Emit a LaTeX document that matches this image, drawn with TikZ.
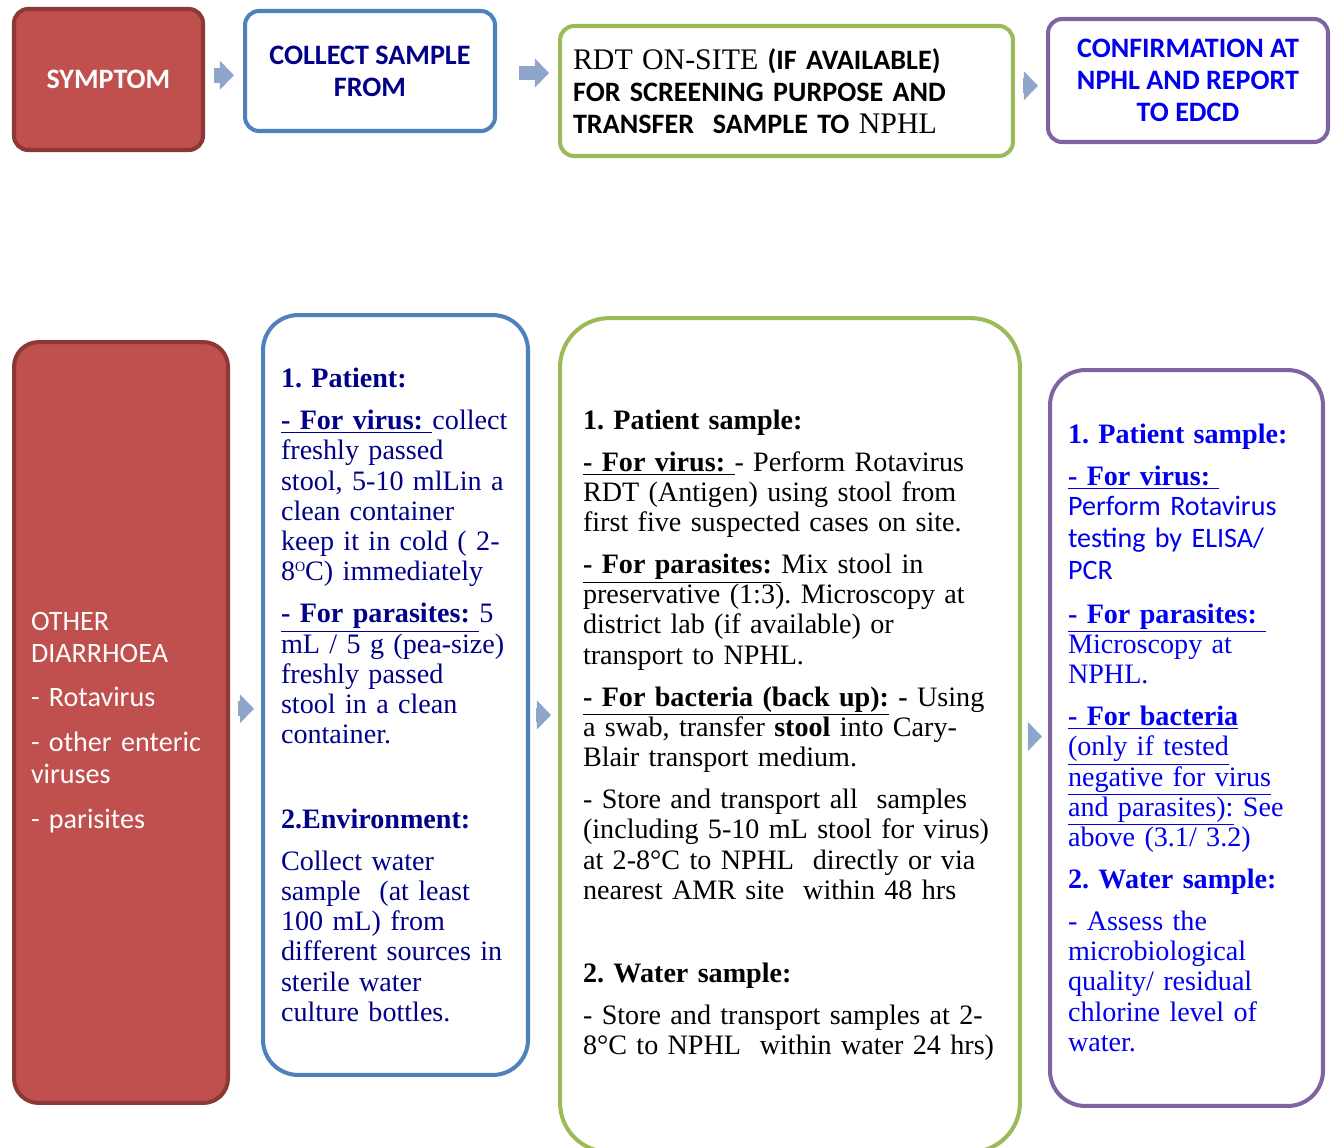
\documentclass[tikz,border=0pt]{standalone}
\usepackage{fontspec}
\setmainfont{Liberation Serif}
\setsansfont{Carlito}
\usepackage{tikz}
\usetikzlibrary{arrows.meta,calc,positioning}
\definecolor{symred}{HTML}{C0504D}
\definecolor{symredline}{HTML}{8C3836}
\definecolor{colblue}{HTML}{4F81BD}
\definecolor{rdtgreen}{HTML}{9BBB59}
\definecolor{confpurple}{HTML}{8064A2}
\definecolor{navytext}{HTML}{000088}
\definecolor{bluetext}{HTML}{0000EE}
\definecolor{arrowfill}{HTML}{8EA5CC}
\newcommand{\txtsize}{\fontsize{16}{17.2}\selectfont}
\newcommand{\capsize}{\fontsize{16}{18.1}\selectfont}
\newcommand{\ulhead}[1]{\underline{\textbf{#1}\ }}
\frenchspacing

\begin{document}
\begin{tikzpicture}
[x=0.02cm,y=-0.02cm,>={Triangle[length=8pt,width=16pt]},
 box/.style={line width=2.3pt,inner ysep=0pt},
 redbox/.style={box,draw=symredline,fill=symred,text=white,font=\sffamily\capsize},
 bluebox/.style={box,draw=colblue,fill=white,text=navytext},
 greenbox/.style={box,draw=rdtgreen,fill=white,text=black},
 purplebox/.style={box,draw=confpurple,fill=white,text=bluetext},
 flowarr/.style={->,line width=8.5pt,draw=arrowfill}]
\useasboundingbox (0,0) rectangle (1334,1147);

% top row
\node[redbox,rounded corners=8pt,minimum width=3.78cm,minimum height=2.82cm] (sym) at (108.5,79.5) {\textbf{SYMPTOM}};
\node[bluebox,rounded corners=8pt,minimum width=5cm,minimum height=2.4cm,align=center,font=\sffamily\capsize] (col) at (370,71) {\textbf{COLLECT SAMPLE}\\\textbf{FROM}};
\node[greenbox,rounded corners=8pt,minimum width=9.06cm,minimum height=2.6cm,text width=8.54cm,inner xsep=0.26cm,align=left,font=\sffamily\capsize] (rdt) at (786.5,91)
  {{\rmfamily\fontsize{17}{18.1}\selectfont RDT ON-SITE} \textbf{(IF AVAILABLE)}\\
   \textbf{FOR SCREENING PURPOSE AND}\\
   \textbf{TRANSFER\ \ SAMPLE TO} {\rmfamily\fontsize{17}{18.1}\selectfont NPHL}};
\node[purplebox,rounded corners=8pt,minimum width=5.6cm,minimum height=2.46cm,align=center,font=\sffamily\capsize] (conf) at (1188,80.5) {\textbf{CONFIRMATION AT}\\\textbf{NPHL AND REPORT}\\\textbf{TO EDCD}};

% bottom row
\node[redbox,rounded corners=14pt,minimum width=4.28cm,minimum height=15.22cm,text width=3.6cm,inner xsep=0.34cm,align=left] (dia) at (121,722.5)
  {OTHER\\
   DIARRHOEA\\[7.4pt]
   - Rotavirus\\[7.4pt]
   - other enteric\\
   viruses\\[7.4pt]
   - parisites};
\node[bluebox,rounded corners=20pt,minimum width=5.3cm,minimum height=15.2cm,text width=4.58cm,inner xsep=0.36cm,align=left,font=\txtsize] (pat) at (395.5,695)
  {\textbf{1. Patient:}\\[6.7pt]
   \ulhead{- For virus:}collect\\
   freshly passed\\
   stool, 5-10 mlLin a\\
   clean container\\
   keep it in cold ( 2-\\
   8\raisebox{0.7ex}{\footnotesize O}C) immediately\\[6.7pt]
   \ulhead{- For parasites:}5\\
   mL / 5 g (pea-size)\\
   freshly passed\\
   stool in a clean\\
   container.\\[31pt]
   \textbf{2.Environment:}\\[6.7pt]
   Collect water\\
   sample\ \ (at least\\
   100 mL) from\\
   different sources in\\
   sterile water\\
   culture bottles.};
\node[greenbox,rounded corners=28pt,minimum width=9.2cm,minimum height=16.68cm,text width=8.28cm,inner xsep=0.46cm,align=left,font=\txtsize] (rdts) at (790,735)
  {\textbf{1. Patient sample:}\\[6.7pt]
   \ulhead{- For virus:}- Perform Rotavirus\\
   RDT (Antigen) using stool from\\
   first five suspected cases on site.\\[6.7pt]
   \ulhead{- For parasites:}Mix stool in\\
   preservative (1:3). Microscopy at\\
   district lab (if available) or\\
   transport to NPHL.\\[6.7pt]
   \underline{\textbf{- For bacteria (back up):}} \textbf{-} Using\\
   a swab, transfer \textbf{stool} into Cary-\\
   Blair transport medium.\\[6.7pt]
   - Store and transport all\ \ samples\\
   (including 5-10 mL stool for virus)\\
   at 2-8°C to NPHL\ \ directly or via\\
   nearest AMR site\ \ within 48 hrs\\[30pt]
   \textbf{2. Water sample:}\\[6.7pt]
   - Store and transport samples at 2-\\
   8°C to NPHL\ \ within water 24 hrs)};
\node[purplebox,rounded corners=20pt,minimum width=5.46cm,minimum height=14.72cm,text width=4.74cm,inner xsep=0.36cm,align=left,font=\txtsize] (nphl) at (1186.5,738)
  {\textbf{1. Patient sample:}\\[6.7pt]
   \ulhead{- For virus:}\\
   {\sffamily Perform Rotavirus}\\[1pt]
   {\sffamily testing by ELISA/}\\[1pt]
   {\sffamily PCR}\\[7.5pt]
   \ulhead{- For parasites:}\\
   Microscopy at\\
   NPHL.\\[6.7pt]
   \underline{\textbf{- For bacteria}}\\
   \underline{(only if tested}\\
   \underline{negative for virus}\\
   \underline{and parasites):} See\\
   above (3.1/ 3.2)\\[6.7pt]
   \textbf{2. Water sample:}\\[6.7pt]
   - Assess the\\
   microbiological\\
   quality/ residual\\
   chlorine level of\\
   water.};

% arrows between the steps
\coordinate (m1) at ($(sym.east)!.5!(col.west)$);
\coordinate (m3) at ($(rdt.east)!.5!(conf.west)$);
\coordinate (m4) at ($(dia.east)!.5!(pat.west)$);
\coordinate (m5) at ($(pat.east)!.5!(rdts.west)$);
\coordinate (m6) at ($(rdts.east)!.5!(nphl.west)$);
\draw[flowarr,shorten <=0.18cm,shorten >=0.18cm] (sym.east |- m1) -- (col.west |- m1);
\draw[flowarr,shorten <=0.44cm,shorten >=0.18cm] ([yshift=-0.04cm]col.east) -- ([yshift=-0.04cm]col.east -| rdt.west);
\draw[flowarr,shorten <=0.16cm,shorten >=0.16cm] (rdt.east |- m3) -- (conf.west |- m3);
\draw[flowarr,shorten <=0.16cm,shorten >=0.14cm] (dia.east |- m4) -- (pat.west |- m4);
\draw[flowarr,shorten <=0.12cm,shorten >=0.14cm] (pat.east |- m5) -- (rdts.west |- m5);
\draw[flowarr,shorten <=0.14cm,shorten >=0.12cm] (rdts.east |- m6) -- (nphl.west |- m6);
\end{tikzpicture}
\end{document}
